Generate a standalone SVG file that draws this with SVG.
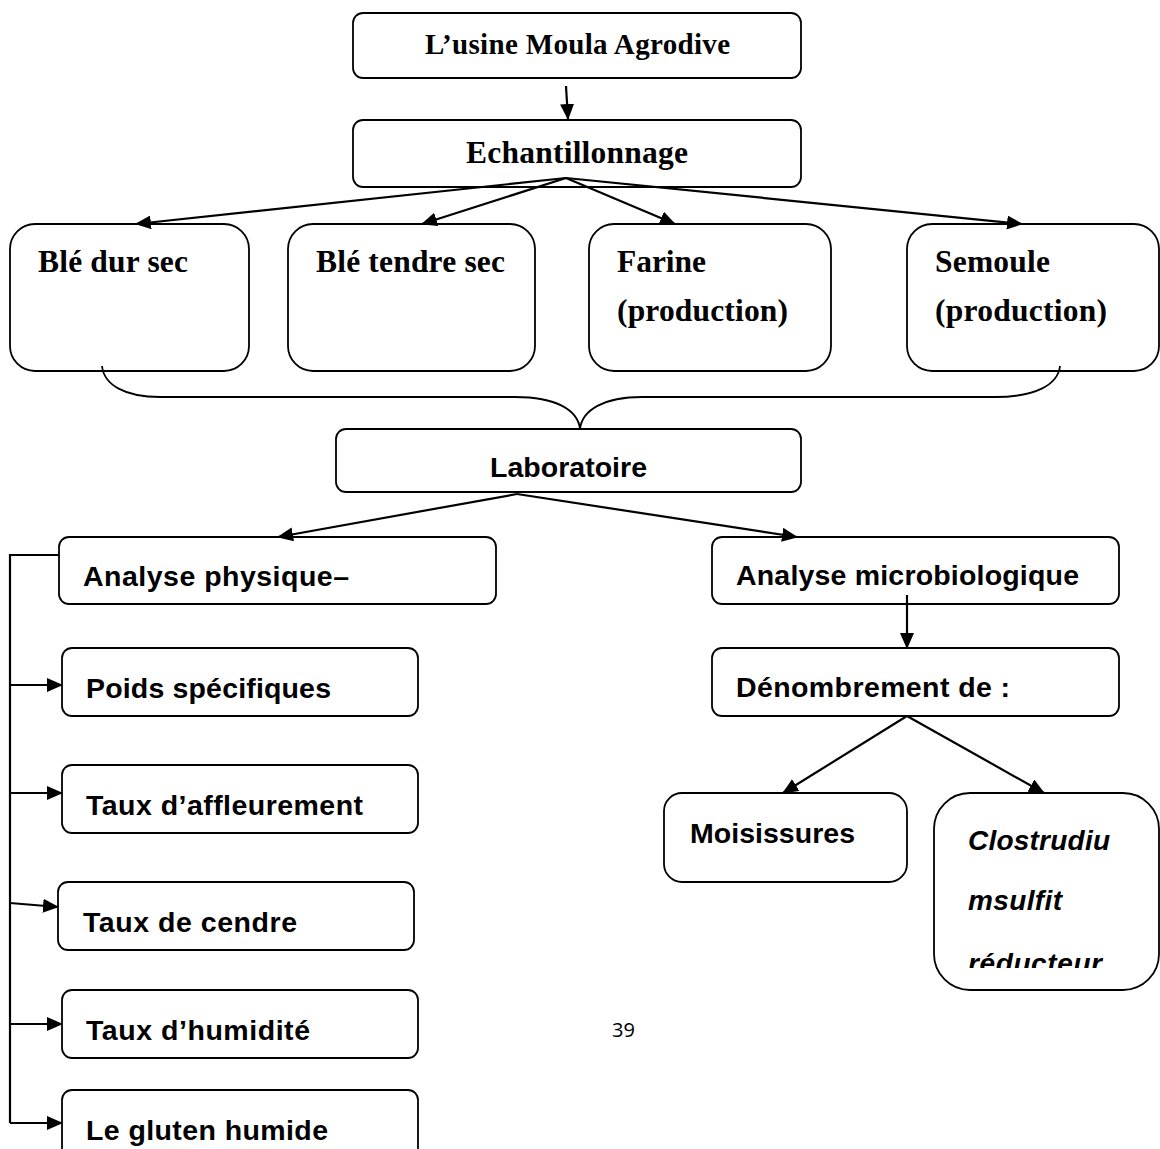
<svg xmlns="http://www.w3.org/2000/svg" width="1160" height="1149" viewBox="0 0 1160 1149">
  <style>
    .box { fill: #fff; stroke: #000; stroke-width: 1.8; }
    .serif { font-family: "Liberation Serif", "Times New Roman", serif; font-weight: bold; fill: #000; }
    .sans { font-family: "Liberation Sans", Arial, sans-serif; font-weight: bold; fill: #000; }
    .ital { font-family: "Liberation Sans", Arial, sans-serif; font-weight: bold; font-style: italic; fill: #000; }
    .edge { fill: none; stroke: #000; stroke-width: 2.2; }
    .brace { fill: none; stroke: #000; stroke-width: 1.8; }
  </style>
  <defs>
    <marker id="arrow" markerUnits="userSpaceOnUse" markerWidth="16" markerHeight="14" refX="15" refY="7" orient="auto">
      <path d="M0,0 L16,7 L0,14 z" fill="#000"/>
    </marker>
    <clipPath id="clipClos">
      <rect x="934" y="793" width="226" height="175"/>
    </clipPath>
  </defs>

  <rect width="1160" height="1149" fill="#fff"/>

  <!-- nodes -->
  <g id="usine">
    <rect class="box" x="353" y="13" width="448" height="65" rx="10"/>
    <text class="serif" x="425" y="54" font-size="29" textLength="305">L’usine Moula Agrodive</text>
  </g>
  <g id="echantillonnage">
    <rect class="box" x="353" y="120" width="448" height="67" rx="10"/>
    <text class="serif" x="466" y="163" font-size="31.5" textLength="222">Echantillonnage</text>
  </g>
  <g id="ble-dur">
    <rect class="box" x="10" y="224" width="239" height="147" rx="25"/>
    <text class="serif" x="38" y="272" font-size="31.5" textLength="150">Blé dur sec</text>
  </g>
  <g id="ble-tendre">
    <rect class="box" x="288" y="224" width="247" height="147" rx="25"/>
    <text class="serif" x="316" y="272" font-size="31.5" textLength="189">Blé tendre sec</text>
  </g>
  <g id="farine">
    <rect class="box" x="589" y="224" width="242" height="147" rx="25"/>
    <text class="serif" x="617" y="272" font-size="31.5" textLength="89">Farine</text>
    <text class="serif" x="617" y="321" font-size="31.5" textLength="171">(production)</text>
  </g>
  <g id="semoule">
    <rect class="box" x="907" y="224" width="252" height="147" rx="25"/>
    <text class="serif" x="935" y="272" font-size="31.5" textLength="115">Semoule</text>
    <text class="serif" x="935" y="321" font-size="31.5" textLength="172">(production)</text>
  </g>
  <g id="laboratoire">
    <rect class="box" x="336" y="429" width="465" height="63" rx="10"/>
    <text class="sans" x="490" y="477" font-size="28.5" textLength="157">Laboratoire</text>
  </g>
  <g id="analyse-physique">
    <rect class="box" x="59" y="537" width="437" height="67" rx="10"/>
    <text class="sans" x="83" y="586" font-size="28.5" textLength="266">Analyse physique–</text>
  </g>
  <g id="poids">
    <rect class="box" x="62" y="648" width="356" height="68" rx="10"/>
    <text class="sans" x="86" y="698" font-size="28.5" textLength="245">Poids spécifiques</text>
  </g>
  <g id="affleurement">
    <rect class="box" x="62" y="765" width="356" height="68" rx="10"/>
    <text class="sans" x="86" y="815" font-size="28.5" textLength="277">Taux d’affleurement</text>
  </g>
  <g id="cendre">
    <rect class="box" x="58" y="882" width="356" height="68" rx="10"/>
    <text class="sans" x="83" y="932" font-size="28.5" textLength="214">Taux de cendre</text>
  </g>
  <g id="humidite">
    <rect class="box" x="62" y="990" width="356" height="68" rx="10"/>
    <text class="sans" x="86" y="1040" font-size="28.5" textLength="224">Taux d’humidité</text>
  </g>
  <g id="gluten">
    <rect class="box" x="62" y="1090" width="356" height="80" rx="10"/>
    <text class="sans" x="86" y="1140" font-size="28.5" textLength="242">Le gluten humide</text>
  </g>
  <g id="analyse-micro">
    <rect class="box" x="712" y="537" width="407" height="67" rx="10"/>
    <text class="sans" x="736" y="585" font-size="28.5" textLength="343">Analyse microbiologique</text>
  </g>
  <g id="denombrement">
    <rect class="box" x="712" y="648" width="407" height="68" rx="10"/>
    <text class="sans" x="736" y="697" font-size="28.5" textLength="274">Dénombrement de :</text>
  </g>
  <g id="moisissures">
    <rect class="box" x="664" y="793" width="243" height="89" rx="18"/>
    <text class="sans" x="690" y="843" font-size="28.5" textLength="165">Moisissures</text>
  </g>
  <g id="clostridium">
    <rect class="box" x="934" y="793" width="225" height="197" rx="36"/>
    <g clip-path="url(#clipClos)">
      <text class="ital" x="968" y="850" font-size="28" textLength="142">Clostrudiu</text>
      <text class="ital" x="968" y="910" font-size="28" textLength="94">msulfit</text>
      <text class="ital" x="968" y="973" font-size="28" textLength="134">réducteur</text>
    </g>
  </g>

  <!-- page number -->
  <text x="612" y="1037" font-family="'Open Sans', 'Liberation Sans', sans-serif" font-size="20" fill="#000">39</text>

  <!-- connectors -->
  <g id="connectors">
    <line class="edge" x1="566" y1="86" x2="568" y2="119" marker-end="url(#arrow)"/>
    <line class="edge" x1="566" y1="178" x2="136" y2="224" marker-end="url(#arrow)"/>
    <line class="edge" x1="566" y1="178" x2="422" y2="224" marker-end="url(#arrow)"/>
    <line class="edge" x1="566" y1="178" x2="675" y2="224" marker-end="url(#arrow)"/>
    <line class="edge" x1="566" y1="178" x2="1022" y2="224" marker-end="url(#arrow)"/>
    <path class="brace" d="M102,366 C104,385 125,397 160,397 L515,397 C556,397 578,410 580,429 C582,410 604,397 642,397 L995,397 C1035,397 1058,385 1060,366"/>
    <line class="edge" x1="517" y1="494" x2="278" y2="537" marker-end="url(#arrow)"/>
    <line class="edge" x1="517" y1="494" x2="797" y2="537" marker-end="url(#arrow)"/>
    <polyline class="edge" points="59,555 10,555 10,1123"/>
    <line class="edge" x1="10" y1="685" x2="62" y2="685" marker-end="url(#arrow)"/>
    <line class="edge" x1="10" y1="793" x2="62" y2="793" marker-end="url(#arrow)"/>
    <line class="edge" x1="10" y1="903" x2="58" y2="907" marker-end="url(#arrow)"/>
    <line class="edge" x1="10" y1="1024" x2="62" y2="1024" marker-end="url(#arrow)"/>
    <line class="edge" x1="10" y1="1123" x2="62" y2="1123" marker-end="url(#arrow)"/>
    <line class="edge" x1="907" y1="595" x2="907" y2="648" marker-end="url(#arrow)"/>
    <line class="edge" x1="907" y1="716" x2="783" y2="793" marker-end="url(#arrow)"/>
    <line class="edge" x1="907" y1="716" x2="1044" y2="793" marker-end="url(#arrow)"/>
  </g>
</svg>
